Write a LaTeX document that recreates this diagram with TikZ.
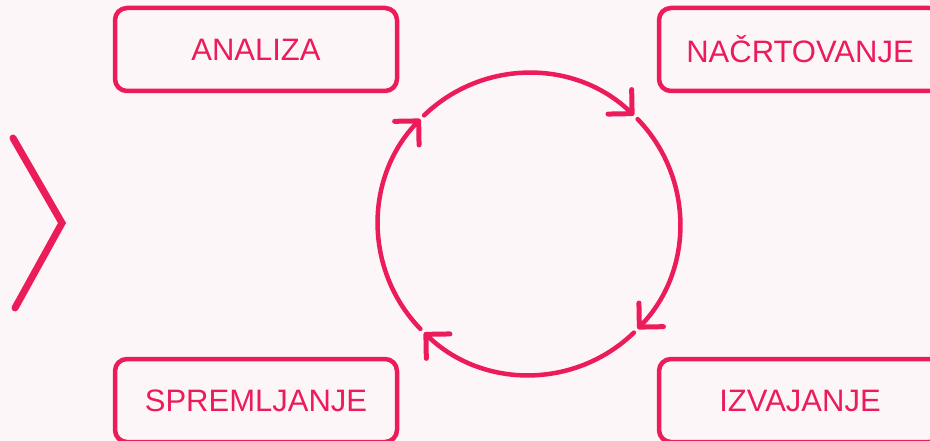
\documentclass[tikz,border=0pt]{standalone}
\usepackage{fontspec}
\setmainfont{Liberation Sans}
\usetikzlibrary{arrows.meta}
\definecolor{pk}{HTML}{EC1B5A}
\definecolor{bg}{HTML}{FDF6F9}
\begin{document}
\begin{tikzpicture}[x=1pt,y=-1pt,
  box/.style={draw=pk, line width=4.5pt, rounded corners=12pt, minimum width=282pt,
    minimum height=83pt, inner sep=0pt, text=pk, font=\fontsize{31}{36}\selectfont},
  cyc/.style={draw=pk, line width=4.5pt, line cap=round,
    -{Straight Barb[length=17pt,width=34pt,line width=5pt,line cap=round,line join=round]}},
  chev/.style={draw=pk, line width=7pt, line cap=round, line join=miter}]
\fill[bg] (0,0) rectangle (930,441);
\useasboundingbox (0,0) rectangle (930,441);
\node[box] (ana) at (256,49.5) {\raisebox{-1pt}{ANALIZA}};
\node[box] (nac) at (800,49.5) {\raisebox{-1pt}{NAČRTOVANJE}};
\node[box] (spr) at (256,400.5) {\raisebox{-1pt}{SPREMLJANJE}};
\node[box] (izv) at (800,400.5) {\raisebox{-1pt}{IZVAJANJE}};
\coordinate (c) at (529,224);
\foreach \s in {0,90,180,270}{
  \draw[cyc] ([shift={(-134+\s:151)}]c) arc[start angle=-134+\s, end angle=-46+\s, radius=151];
}
\draw[chev] (13,138) -- (62,223) -- (15,308);
\end{tikzpicture}
\end{document}
